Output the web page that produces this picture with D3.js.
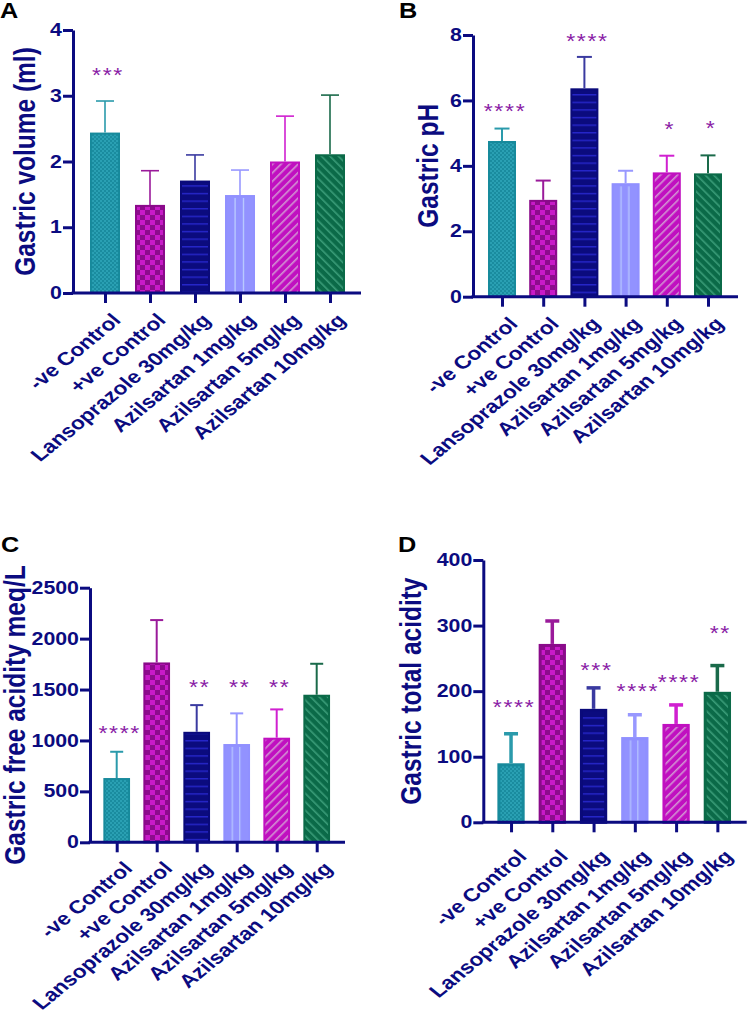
<!DOCTYPE html>
<html><head><meta charset="utf-8">
<script src="https://cdn.jsdelivr.net/npm/d3@7"></script>
<style>
html,body{margin:0;padding:0;background:#fff;}
svg{display:block;font-family:"Liberation Sans",Arial,sans-serif;}
</style></head>
<body>
<svg id="chart" width="750" height="1016"></svg>
<script>
// ---------------- DATA ----------------
const categories = ["-ve Control","+ve Control","Lansoprazole 30mg/kg","Azilsartan 1mg/kg","Azilsartan 5mg/kg","Azilsartan 10mg/kg"];

const volumeMean = [2.44, 1.34, 1.71, 1.49, 2.00, 2.11];
const volumeErr  = [0.48, 0.52, 0.39, 0.38, 0.69, 0.90];
const volumeStars = ["***", "", "", "", "", ""];
const volumeStarLevel = [3.39, 0, 0, 0, 0, 0];
const volumeTicks = [0, 1, 2, 3, 4];

const phMean = [4.76, 2.96, 6.37, 3.47, 3.80, 3.77];
const phErr  = [0.38, 0.59, 0.96, 0.38, 0.51, 0.55];
const phStars = ["****", "", "****", "", "*", "*"];
const phStarLevel = [5.83, 0, 7.97, 0, 5.28, 5.32];
const phTicks = [0, 2, 4, 6, 8];

const freeMean = [631, 1766, 1085, 965, 1027, 1449];
const freeErr  = [258, 416, 262, 301, 278, 304];
const freeStars = ["****", "", "**", "**", "**", ""];
const freeStarLevel = [1122, 0, 1570, 1570, 1570, 0];
const freeTicks = [0, 500, 1000, 1500, 2000, 2500];

const totalMean = [90, 272, 173, 130, 150, 199];
const totalErr  = [45, 35, 32, 34, 29, 40];
const totalStars = ["****", "", "***", "****", "****", "**"];
const totalStarLevel = [183, 0, 240, 208, 222, 296];
const totalTicks = [0, 100, 200, 300, 400];

// ---------------- STYLE ----------------
const navy = "#0b0b80";
const starColor = "#8a1ca6";
const FONT = "'Liberation Sans',Arial,sans-serif";
const SX = 1.22; // horizontal stretch of the lettering in the reference
const barStyles = [
  {fill: "url(#pTeal)",   stroke: "#178a9c", err: "#2a9aab"},
  {fill: "url(#pPurple)", stroke: "#8a0a8a", err: "#9a1a9a"},
  {fill: "url(#pNavy)",   stroke: "#0a0a7a", err: "#3a3aa0"},
  {fill: "url(#pPeri)",   stroke: "#9090ff", err: "#9898ff"},
  {fill: "url(#pMag)",    stroke: "#c010c0", err: "#d020d0"},
  {fill: "url(#pGreen)",  stroke: "#0b6a48", err: "#1a6a4a"}
];

const svg = d3.select("#chart");
const defs = svg.append("defs");

(function(){
  const p = defs.append("pattern").attr("id","pTeal").attr("patternUnits","userSpaceOnUse").attr("width",4).attr("height",4);
  p.append("rect").attr("width",4).attr("height",4).attr("fill","#1a8c9f");
  p.append("rect").attr("width",2).attr("height",2).attr("fill","#2aa0b3");
  p.append("rect").attr("x",2).attr("y",2).attr("width",2).attr("height",2).attr("fill","#2aa0b3");
})();
(function(){
  const p = defs.append("pattern").attr("id","pPurple").attr("patternUnits","userSpaceOnUse").attr("width",10).attr("height",10);
  p.append("rect").attr("width",10).attr("height",10).attr("fill","#8c0c8c");
  p.append("rect").attr("width",5).attr("height",5).attr("fill","#c81ac8");
  p.append("rect").attr("x",5).attr("y",5).attr("width",5).attr("height",5).attr("fill","#c81ac8");
})();
(function(){
  const p = defs.append("pattern").attr("id","pNavy").attr("patternUnits","userSpaceOnUse").attr("width",8).attr("height",7.6);
  p.append("rect").attr("width",8).attr("height",7.6).attr("fill","#0b0b7e");
  p.append("rect").attr("y",3).attr("width",8).attr("height",1.2).attr("fill","#2a2ad8");
})();
(function(){
  const p = defs.append("pattern").attr("id","pPeri").attr("patternUnits","objectBoundingBox")
    .attr("patternContentUnits","objectBoundingBox").attr("width",1).attr("height",1);
  p.append("rect").attr("width",1).attr("height",1).attr("fill","#9292ff");
  p.append("rect").attr("x",0.3).attr("y",0.02).attr("width",0.05).attr("height",1).attr("fill","#b8c8ff");
  p.append("rect").attr("x",0.6).attr("y",0.02).attr("width",0.05).attr("height",1).attr("fill","#b8c8ff");
})();
(function(){
  const p = defs.append("pattern").attr("id","pMag").attr("patternUnits","userSpaceOnUse").attr("width",6).attr("height",6).attr("patternTransform","rotate(45)");
  p.append("rect").attr("width",6).attr("height",6).attr("fill","#c010c0");
  p.append("rect").attr("x",2).attr("width",1.6).attr("height",6).attr("fill","#d292d2");
})();
(function(){
  const p = defs.append("pattern").attr("id","pGreen").attr("patternUnits","userSpaceOnUse").attr("width",6).attr("height",6).attr("patternTransform","rotate(-45)");
  p.append("rect").attr("width",6).attr("height",6).attr("fill","#0b6a48");
  p.append("rect").attr("x",2).attr("width",1.6).attr("height",6).attr("fill","#3a9c78");
})();

function drawPanel(cfg) {
  const g = svg.append("g");
  const y = d3.scaleLinear().domain([0, cfg.yMax]).range([cfg.y0, cfg.yTop]);
  const x = d3.scalePoint().domain(categories).range(cfg.xRange).padding(0.5);

  g.selectAll("rect.bar").data(cfg.mean).join("rect")
    .attr("class","bar")
    .attr("x", (d,i) => x(categories[i]) - cfg.barW/2 + cfg.sw/2)
    .attr("y", d => y(d) + cfg.sw/2)
    .attr("width", cfg.barW - cfg.sw)
    .attr("height", d => cfg.y0 - y(d) - cfg.sw/2)
    .attr("fill", (d,i) => barStyles[i].fill)
    .attr("stroke", (d,i) => barStyles[i].stroke)
    .attr("stroke-width", cfg.sw);

  cfg.mean.forEach((m, i) => {
    const cx = x(categories[i]);
    const top = y(m + cfg.err[i]);
    g.append("line").attr("x1",cx).attr("x2",cx).attr("y1",y(m)).attr("y2",top)
      .attr("stroke",barStyles[i].err).attr("stroke-width",cfg.esw);
    g.append("line").attr("x1",cx-cfg.capW/2).attr("x2",cx+cfg.capW/2).attr("y1",top).attr("y2",top)
      .attr("stroke",barStyles[i].err).attr("stroke-width",cfg.esw);
  });

  cfg.stars.forEach((s, i) => {
    if (!s) return;
    g.append("text")
      .attr("transform", `translate(${x(categories[i]) + 3},${y(cfg.starLevel[i]) + 12}) scale(1.1,1)`)
      .attr("text-anchor","middle")
      .attr("fill", starColor)
      .attr("font-size", 21)
      .attr("letter-spacing", 1.5)
      .text(s);
  });

  const ya = g.append("g").attr("transform", `translate(${cfg.axisX},0)`)
    .call(d3.axisLeft(y).tickValues(cfg.ticks).tickFormat(d3.format("d")).tickSize(10).tickSizeOuter(0).tickPadding(4));
  ya.select(".domain").attr("stroke", navy).attr("stroke-width", 3);
  ya.selectAll(".tick line").attr("stroke", navy).attr("stroke-width", 3);
  ya.selectAll(".tick text").attr("fill", navy).attr("font-size", 17.5).attr("font-weight","bold")
    .attr("font-family", FONT)
    .attr("x", null)
    .attr("transform", `translate(-11,0) scale(${SX},1)`);

  const xa = g.append("g").attr("transform", `translate(0,${cfg.y0})`)
    .call(d3.axisBottom(x).tickSize(10).tickSizeOuter(0));
  xa.select(".domain").remove();
  xa.append("line").attr("x1", cfg.axisX - 1.5).attr("x2", cfg.xEnd).attr("stroke", navy).attr("stroke-width", 3);
  xa.selectAll(".tick line").attr("stroke", navy).attr("stroke-width", 3);
  xa.selectAll(".tick text")
    .attr("fill", navy).attr("font-size", 18.5).attr("font-weight","bold")
    .attr("font-family", FONT)
    .attr("text-anchor","end")
    .attr("x", 0).attr("y", 0).attr("dy", "0.72em")
    .attr("transform", `translate(${cfg.lblDx},${cfg.lblDy}) scale(${SX},1) rotate(-45)`);

  g.append("text")
    .attr("transform", `translate(${cfg.titleX},${(cfg.y0 + cfg.yTop)/2}) scale(${SX},1) rotate(-90)`)
    .attr("text-anchor","middle")
    .attr("fill", navy).attr("font-size", 24.5).attr("font-weight","bold")
    .text(cfg.title);

  svg.append("text")
    .attr("transform", `translate(${cfg.letterX},${cfg.letterY}) scale(1.15,1)`)
    .attr("font-size", 22).attr("font-weight","bold").attr("fill","#000")
    .text(cfg.letter);
}

drawPanel({mean: volumeMean, err: volumeErr, stars: volumeStars, starLevel: volumeStarLevel, ticks: volumeTicks,
  yMax: 4, y0: 293, yTop: 30, axisX: 73, xRange: [82.5, 352.5], xEnd: 361, barW: 30, sw: 2, esw: 1.6, capW: 18,
  lblDx: 5, lblDy: 19, title: "Gastric volume (ml)", titleX: 35, letter: "A", letterX: 0, letterY: 18});

drawPanel({mean: phMean, err: phErr, stars: phStars, starLevel: phStarLevel, ticks: phTicks,
  yMax: 8, y0: 296.7, yTop: 35, axisX: 473, xRange: [481.4, 728.6], xEnd: 738, barW: 28, sw: 2, esw: 2, capW: 15,
  lblDx: 5, lblDy: 19, title: "Gastric pH", titleX: 438, letter: "B", letterX: 399, letterY: 18});

drawPanel({mean: freeMean, err: freeErr, stars: freeStars, starLevel: freeStarLevel, ticks: freeTicks,
  yMax: 2500, y0: 842.3, yTop: 587.7, axisX: 90, xRange: [96.7, 336.7], xEnd: 345, barW: 26.7, sw: 2, esw: 2, capW: 13,
  lblDx: 5, lblDy: 18, title: "Gastric free acidity meq/L", titleX: 25, letter: "C", letterX: 1, letterY: 552});

drawPanel({mean: totalMean, err: totalErr, stars: totalStars, starLevel: totalStarLevel, ticks: totalTicks,
  yMax: 400, y0: 822.3, yTop: 560, axisX: 483.3, xRange: [490.4, 738], xEnd: 746.7, barW: 27.3, sw: 3, esw: 3.5, capW: 14,
  lblDx: 5, lblDy: 26, title: "Gastric total acidity", titleX: 421, letter: "D", letterX: 398, letterY: 552});
</script>
</body></html>
